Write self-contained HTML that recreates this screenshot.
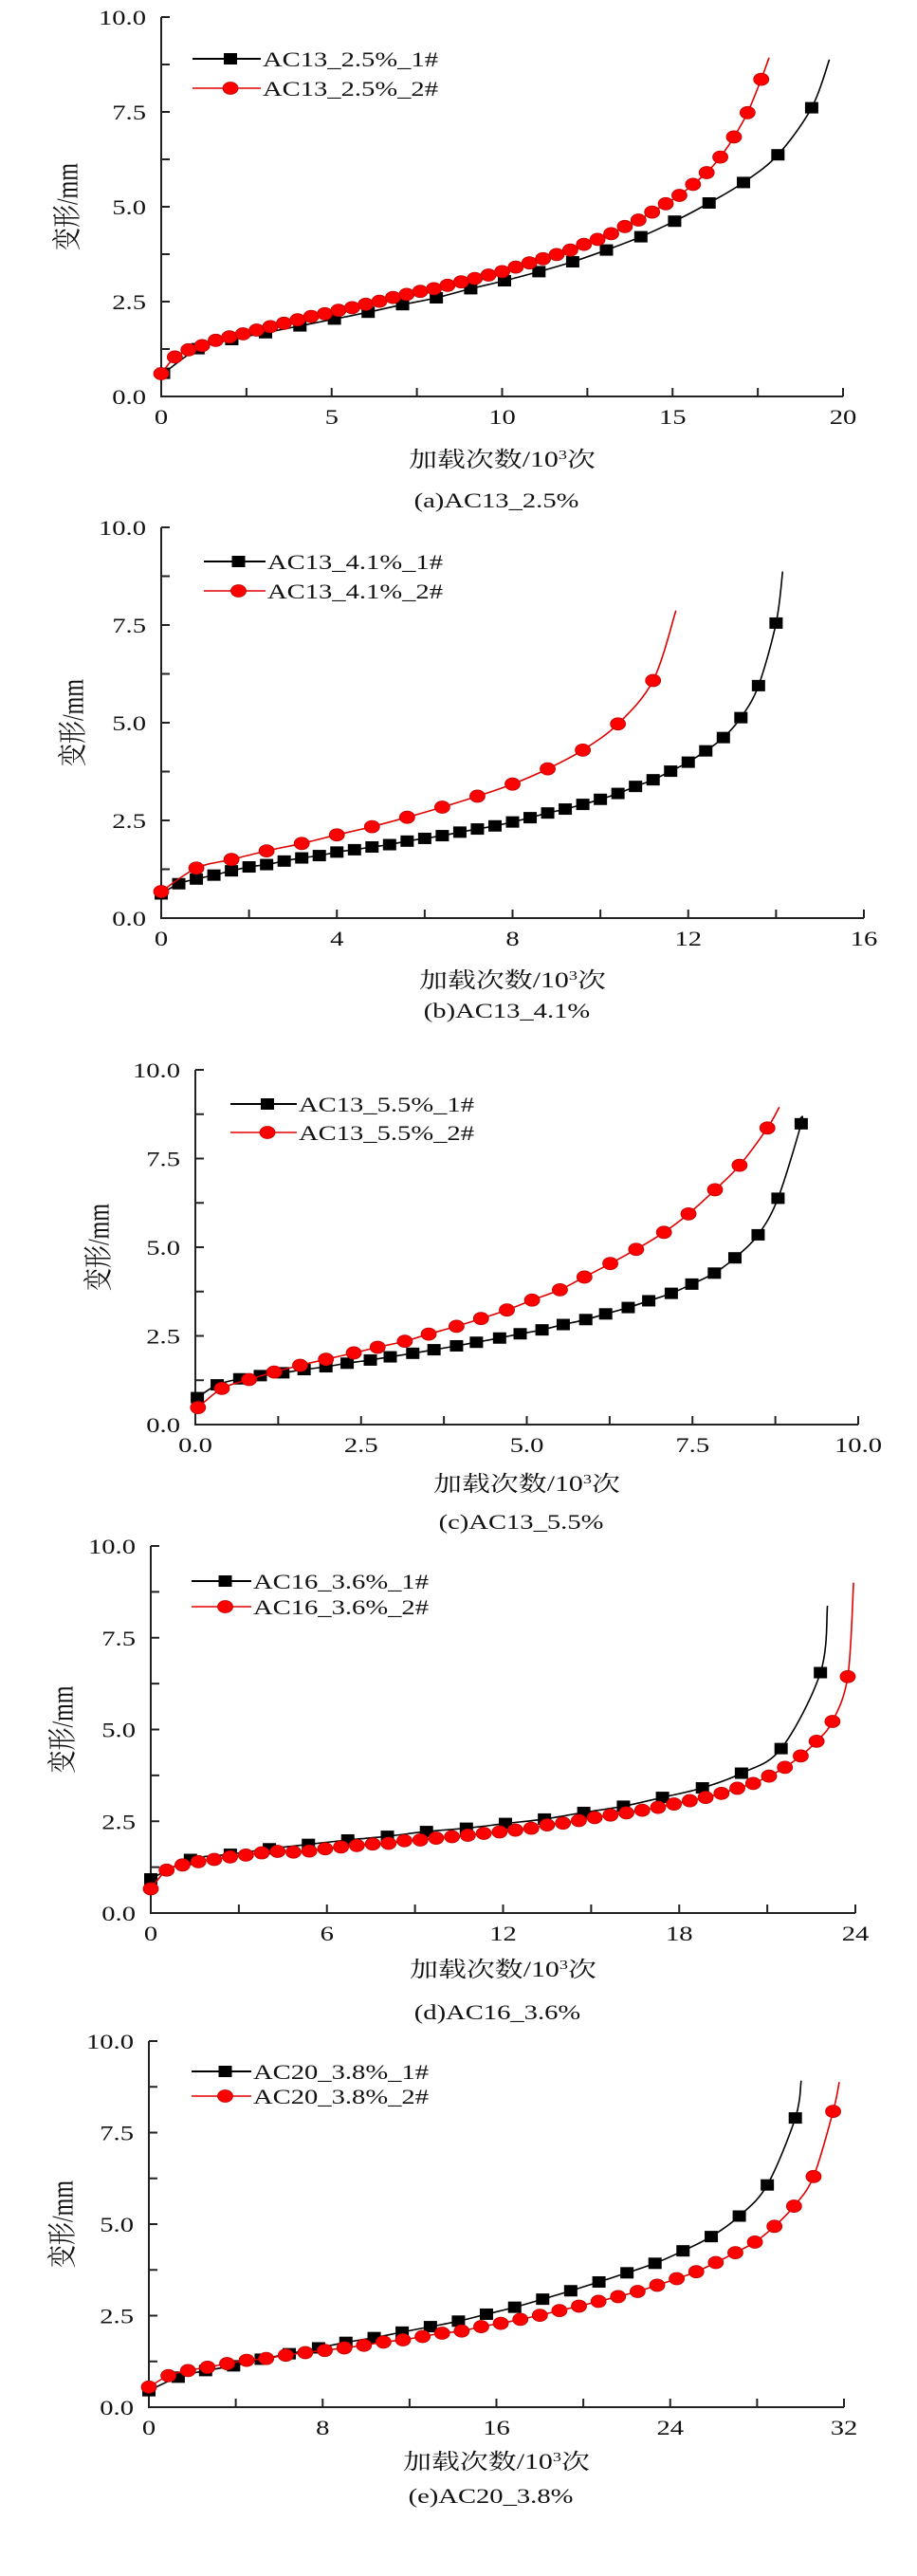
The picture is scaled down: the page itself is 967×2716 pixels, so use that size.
<!DOCTYPE html>
<html><head><meta charset="utf-8"><title>Deformation vs loading cycles</title>
<style>
html,body{margin:0;padding:0;background:#fff;}
svg{display:block;}
text{font-family:"Liberation Serif","Noto Serif CJK SC",serif;fill:#111;}
</style></head>
<body>
<svg id="fig" width="967" height="2716" viewBox="0 0 967 2716" xmlns="http://www.w3.org/2000/svg"></svg>
<script>
// ---------- data (x in 10^3 cycles, y in mm) ----------
const aBlackX=[0.07,1.08,2.07,3.06,4.07,5.08,6.07,7.08,8.07,9.08,10.07,11.08,12.07,13.06,14.07,15.06,16.07,17.08,18.09,19.08];
const aBlackY=[0.61,1.26,1.50,1.68,1.86,2.04,2.22,2.42,2.60,2.84,3.05,3.29,3.55,3.86,4.21,4.62,5.10,5.64,6.37,7.61];
const aBlackEnd=[19.6,8.88];
const aRedX=[0,0.4,0.8,1.2,1.6,2.0,2.4,2.8,3.2,3.6,4.0,4.4,4.8,5.2,5.6,6.0,6.4,6.8,7.2,7.6,8.0,8.4,8.8,9.2,9.6,10.0,10.4,10.8,11.2,11.6,12.0,12.4,12.8,13.2,13.6,14.0,14.4,14.8,15.2,15.6,16.0,16.4,16.8,17.2,17.6];
const aRedY=[0.6,1.04,1.23,1.34,1.48,1.57,1.65,1.75,1.84,1.93,2.02,2.11,2.18,2.27,2.34,2.43,2.51,2.61,2.69,2.77,2.84,2.93,3.02,3.11,3.20,3.29,3.41,3.52,3.63,3.74,3.86,4.01,4.14,4.29,4.48,4.65,4.86,5.08,5.30,5.59,5.90,6.31,6.84,7.48,8.36];
const aRedEnd=[17.83,8.93];

const bBlackX=[0,0.4,0.8,1.2,1.6,2.0,2.4,2.8,3.2,3.6,4.0,4.4,4.8,5.2,5.6,6.0,6.4,6.8,7.2,7.6,8.0,8.4,8.8,9.2,9.6,10.0,10.4,10.8,11.2,11.6,12.0,12.4,12.8,13.2,13.6,14.0];
const bBlackY=[0.62,0.88,1.00,1.10,1.21,1.31,1.37,1.46,1.54,1.60,1.69,1.75,1.82,1.88,1.97,2.04,2.11,2.20,2.28,2.36,2.46,2.57,2.69,2.79,2.91,3.04,3.19,3.37,3.54,3.76,3.99,4.28,4.62,5.13,5.95,7.55];
const bBlackEnd=[14.15,8.87];
const bRedX=[0,0.8,1.6,2.4,3.2,4.0,4.8,5.6,6.4,7.2,8.0,8.8,9.6,10.4,11.2];
const bRedY=[0.68,1.28,1.50,1.72,1.91,2.13,2.34,2.58,2.84,3.12,3.43,3.82,4.30,4.97,6.08];
const bRedEnd=[11.72,7.87];

const cBlackX=[0.03,0.33,0.67,0.98,1.32,1.64,1.97,2.29,2.64,2.94,3.28,3.60,3.94,4.24,4.59,4.90,5.23,5.55,5.89,6.19,6.53,6.84,7.18,7.49,7.83,8.14,8.49,8.79,9.14];
const cBlackY=[0.76,1.12,1.29,1.38,1.46,1.55,1.63,1.73,1.82,1.91,2.01,2.11,2.22,2.32,2.44,2.56,2.67,2.82,2.96,3.12,3.30,3.49,3.70,3.96,4.27,4.70,5.35,6.38,8.48];
const cBlackEnd=[9.12,8.62];
const cRedX=[0.04,0.40,0.81,1.19,1.58,1.97,2.39,2.75,3.16,3.52,3.94,4.31,4.70,5.08,5.50,5.87,6.26,6.65,7.07,7.44,7.84,8.21,8.63];
const cRedY=[0.48,1.02,1.27,1.48,1.67,1.84,2.02,2.18,2.35,2.55,2.77,2.99,3.23,3.51,3.80,4.16,4.54,4.94,5.42,5.94,6.62,7.31,8.36];
const cRedEnd=[8.81,8.95];

const dBlackX=[0,1.35,2.71,4.04,5.37,6.71,8.06,9.39,10.75,12.08,13.41,14.75,16.10,17.43,18.79,20.12,21.47,22.81];
const dBlackY=[0.93,1.46,1.60,1.75,1.87,1.99,2.09,2.22,2.31,2.44,2.56,2.74,2.91,3.15,3.41,3.81,4.48,6.55];
const dBlackEnd=[23.05,8.37];
const dRedX=[0,0.54,1.08,1.62,2.16,2.70,3.24,3.78,4.32,4.86,5.40,5.94,6.48,7.02,7.56,8.10,8.64,9.18,9.72,10.26,10.80,11.34,11.88,12.42,12.96,13.50,14.04,14.58,15.12,15.66,16.20,16.74,17.28,17.82,18.36,18.90,19.44,19.98,20.52,21.06,21.60,22.14,22.68,23.22,23.74];
const dRedY=[0.66,1.17,1.31,1.40,1.46,1.53,1.58,1.64,1.68,1.66,1.69,1.75,1.80,1.84,1.88,1.90,1.97,1.99,2.04,2.08,2.12,2.17,2.21,2.26,2.31,2.40,2.45,2.52,2.60,2.67,2.73,2.80,2.88,2.97,3.06,3.15,3.26,3.40,3.53,3.73,3.97,4.28,4.68,5.22,6.44];
const dRedEnd=[23.94,9.0];

const eBlackX=[0,1.35,2.61,3.90,5.17,6.46,7.81,9.07,10.37,11.66,12.96,14.25,15.54,16.84,18.13,19.42,20.72,22.01,23.30,24.59,25.89,27.18,28.47,29.76];
const eBlackY=[0.45,0.82,1.00,1.13,1.31,1.46,1.62,1.77,1.90,2.05,2.20,2.35,2.54,2.73,2.95,3.18,3.42,3.67,3.93,4.27,4.66,5.22,6.07,7.90];
const eBlackEnd=[30.03,8.92];
const eRedX=[0,0.9,1.8,2.7,3.6,4.5,5.4,6.3,7.2,8.1,9.0,9.9,10.8,11.7,12.6,13.5,14.4,15.3,16.2,17.1,18.0,18.9,19.8,20.7,21.6,22.5,23.4,24.3,25.2,26.1,27.0,27.9,28.8,29.7,30.6,31.5];
const eRedY=[0.55,0.86,1.00,1.09,1.19,1.28,1.33,1.42,1.49,1.55,1.62,1.69,1.78,1.84,1.93,2.02,2.08,2.20,2.29,2.40,2.51,2.64,2.76,2.89,3.02,3.16,3.33,3.51,3.70,3.95,4.22,4.51,4.94,5.49,6.30,8.08];
const eRedEnd=[31.78,8.88];

const yTickLabels=["0.0","2.5","5.0","7.5","10.0"];
const aXTickLabels=["0","5","10","15","20"];
const bXTickLabels=["0","4","8","12","16"];
const cXTickLabels=["0.0","2.5","5.0","7.5","10.0"];
const dXTickLabels=["0","6","12","18","24"];
const eXTickLabels=["0","8","16","24","32"];
const legendNames=[["AC13_2.5%_1#","AC13_2.5%_2#"],["AC13_4.1%_1#","AC13_4.1%_2#"],["AC13_5.5%_1#","AC13_5.5%_2#"],["AC16_3.6%_1#","AC16_3.6%_2#"],["AC20_3.8%_1#","AC20_3.8%_2#"]];
const captions=["(a)AC13_2.5%","(b)AC13_4.1%","(c)AC13_5.5%","(d)AC16_3.6%","(e)AC20_3.8%"];

// ---------- layout ----------
const panels=[
 {id:"a",x0:170,x1:889,yT:18,yB:418,xmax:20,lg:[62,93],lx:[203,275],xl:484,cap:527,yt:72,bx:aBlackX,by:aBlackY,be:aBlackEnd,rx:aRedX,ry:aRedY,re:aRedEnd,xt:aXTickLabels},
 {id:"b",x0:170,x1:911,yT:556,yB:968,xmax:16,lg:[592,623],lx:[215,280],xl:1033,cap:1065,yt:78,bx:bBlackX,by:bBlackY,be:bBlackEnd,rx:bRedX,ry:bRedY,re:bRedEnd,xt:bXTickLabels},
 {id:"c",x0:206,x1:905,yT:1128,yB:1502,xmax:10,lg:[1164,1194],lx:[243,313],xl:1564,cap:1604,yt:105,bx:cBlackX,by:cBlackY,be:cBlackEnd,rx:cRedX,ry:cRedY,re:cRedEnd,xt:cXTickLabels},
 {id:"d",x0:159,x1:902,yT:1630,yB:2017,xmax:24,lg:[1667,1694],lx:[202,265],xl:2076,cap:2121,yt:67,bx:dBlackX,by:dBlackY,be:dBlackEnd,rx:dRedX,ry:dRedY,re:dRedEnd,xt:dXTickLabels},
 {id:"e",x0:157,x1:890,yT:2152,yB:2538,xmax:32,lg:[2184,2210],lx:[202,265],xl:2595,cap:2631,yt:67,bx:eBlackX,by:eBlackY,be:eBlackEnd,rx:eRedX,ry:eRedY,re:eRedEnd,xt:eXTickLabels}
];
const NS="http://www.w3.org/2000/svg";
const svg=document.getElementById("fig");
const SX=1.3;
function mk(tag,attrs,parent){const e=document.createElementNS(NS,tag);for(const k in attrs)e.setAttribute(k,attrs[k]);parent.appendChild(e);return e;}
function txt(parent,x,y,s,size,anchor){const t=mk("text",{transform:`translate(${x},${y}) scale(${SX},1)`,"font-size":size,"text-anchor":anchor||"start"},parent);t.textContent=s;return t;}
function smooth(pts){let d=`M${pts[0][0]},${pts[0][1]}`;for(let i=0;i<pts.length-1;i++){const p0=pts[Math.max(i-1,0)],p1=pts[i],p2=pts[i+1],p3=pts[Math.min(i+2,pts.length-1)];const c1x=p1[0]+(p2[0]-p0[0])/6,c1y=p1[1]+(p2[1]-p0[1])/6,c2x=p2[0]-(p3[0]-p1[0])/6,c2y=p2[1]-(p3[1]-p1[1])/6;d+=` C${c1x.toFixed(1)},${c1y.toFixed(1)} ${c2x.toFixed(1)},${c2y.toFixed(1)} ${p2[0].toFixed(1)},${p2[1].toFixed(1)}`;}return d;}
function square(g,cx,cy){const s=mk("rect",{x:cx-7,y:cy-6,width:14,height:12,fill:"#000"},g);}
function circle(g,cx,cy){const c=mk("ellipse",{cx:cx,cy:cy,rx:8,ry:6.5,fill:"#ff0000",stroke:"#c00000","stroke-width":0.8},g);}

panels.forEach((p,pi)=>{
 const g=mk("g",{},svg);
 
 
 const X=v=>p.x0+(v/p.xmax)*(p.x1-p.x0);
 const Y=v=>p.yB-(v/10)*(p.yB-p.yT);
 // axes
 const ax=mk("g",{stroke:"#222","stroke-width":2,fill:"none"},g);
 
 
 mk("line",{x1:p.x0,y1:p.yT,x2:p.x0,y2:p.yB+1},ax);
 mk("line",{x1:p.x0-1,y1:p.yB,x2:p.x1,y2:p.yB},ax);
 for(let i=0;i<=8;i++){const yy=Y(i*1.25);mk("line",{x1:p.x0,y1:yy,x2:p.x0+9,y2:yy},ax);}
 for(let i=0;i<=8;i++){const xx=X(i*p.xmax/8);mk("line",{x1:xx,y1:p.yB,x2:xx,y2:p.yB-9},ax);}
 const yl=mk("g",{},g);
 
 
 yTickLabels.forEach((s,i)=>txt(yl,p.x0-16,Y(i*2.5)+8,s,22,"end"));
 const xlg=mk("g",{},g);
 
 
 p.xt.forEach((s,i)=>txt(xlg,X(i*p.xmax/4),p.yB+29,s,22,"middle"));
 // y title
 const yt=mk("text",{transform:`translate(${p.yt},${(p.yT+p.yB)/2}) rotate(-90) scale(1,1.3)`,"font-size":24,"text-anchor":"middle","dominant-baseline":"central"},g);
 yt.textContent="变形/mm";
 
 
 // x title
 const cx=(p.x0+p.x1)/2;
 const xt=mk("text",{transform:`translate(${cx},${p.xl+8}) scale(${SX},1)`,"font-size":23,"text-anchor":"middle"},g);
 
 
 xt.appendChild(document.createTextNode("加载次数/10"));
 const sup=mk("tspan",{"font-size":14,dy:-8},xt);sup.textContent="3";
 const rest=mk("tspan",{dy:8},xt);rest.textContent="次";
 // caption
 const cap=txt(g,cx-6,p.cap+8,captions[pi],22,"middle");
 
 
 // series
 [[p.bx,p.by,p.be,"#000",square,"series-1"],[p.rx,p.ry,p.re,"#e00000",circle,"series-2"]].forEach(([xs,ys,end,col,mark,nm])=>{
  const sg=mk("g",{},g);
  
  
  const pts=xs.map((v,i)=>[X(v),Y(ys[i])]);pts.push([X(end[0]),Y(end[1])]);
  mk("path",{d:smooth(pts),fill:"none",stroke:col,"stroke-width":1.6},sg);
  xs.forEach((v,i)=>mark(sg,X(v),Y(ys[i])));
 });
 // legend
 const lg=mk("g",{},g);
 
 
 [[ "#000",square],["#e00000",circle]].forEach(([col,mark],i)=>{
  const ly=p.lg[i];
  const e=mk("g",{},lg);
  
  
  mk("line",{x1:p.lx[0],y1:ly,x2:p.lx[1],y2:ly,stroke:col,"stroke-width":i==0?2:1.6},e);
  mark(e,(p.lx[0]+p.lx[1])/2+4,ly);
  txt(e,p.lx[1]+2,ly+8,legendNames[pi][i],22,"start");
 });
});
</script>
</body></html>
